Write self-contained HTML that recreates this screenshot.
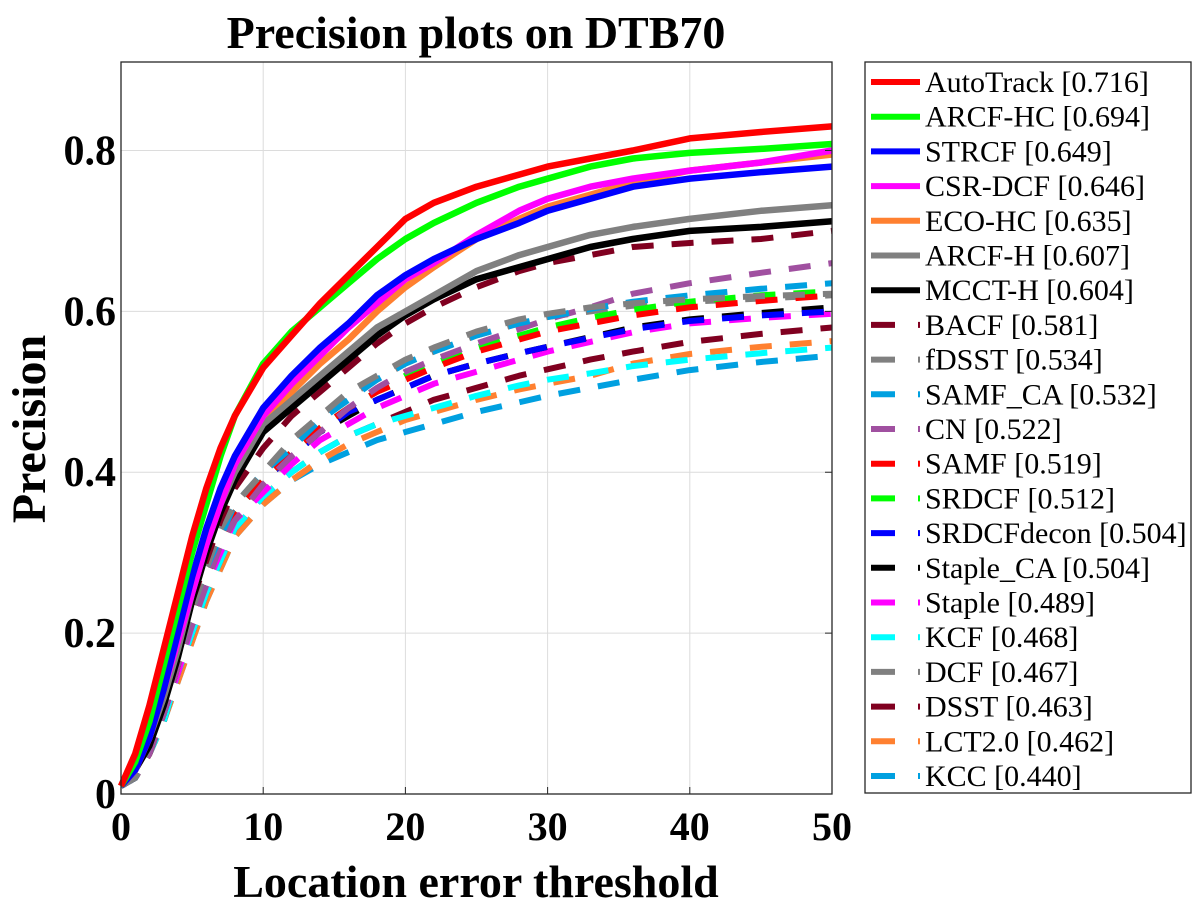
<!DOCTYPE html>
<html><head><meta charset="utf-8"><style>
body{margin:0;background:#fff;}
svg text{font-family:"Liberation Serif","Times New Roman",serif;}
</style></head><body>
<svg id="chart" width="1198" height="906" xmlns="http://www.w3.org/2000/svg">
<rect width="1198" height="906" fill="#fff"/>
<text x="476" y="48" font-size="46" font-weight="bold" text-anchor="middle">Precision plots on DTB70</text>
<g id="grid"></g><g id="series"></g><g id="axes"></g>
<text x="476" y="897" font-size="46" font-weight="bold" text-anchor="middle">Location error threshold</text>
<text x="0" y="0" font-size="48" font-weight="bold" text-anchor="middle" transform="translate(45,429) rotate(-90)">Precision</text>
<g id="legend"></g>
</svg>
<script>
const T=[0,1,2,3,4,5,6,7,8,10,12,14,16,18,20,22,25,28,30,33,36,40,45,50];
const xTicks=[0,10,20,30,40,50];
const yTicks=[0,0.2,0.4,0.6,0.8];
const yTickLabels=["0","0.2","0.4","0.6","0.8"];
const names=["AutoTrack [0.716]","ARCF-HC [0.694]","STRCF [0.649]","CSR-DCF [0.646]","ECO-HC [0.635]","ARCF-H [0.607]","MCCT-H [0.604]","BACF [0.581]","fDSST [0.534]","SAMF_CA [0.532]","CN [0.522]","SAMF [0.519]","SRDCF [0.512]","SRDCFdecon [0.504]","Staple_CA [0.504]","Staple [0.489]","KCF [0.468]","DCF [0.467]","DSST [0.463]","LCT2.0 [0.462]","KCC [0.440]"];
const colors=["#ff0000","#00ff00","#0000ff","#ff00ff","#ff8030","#808080","#000000","#800020","#808080","#00a0e0","#a050a0","#ff0000","#00ff00","#0000ff","#000000","#ff00ff","#00ffff","#808080","#800020","#ff8030","#00a0e0"];
const autoTrack=[0.01,0.05,0.11,0.18,0.25,0.32,0.38,0.43,0.47,0.53,0.57,0.61,0.645,0.68,0.715,0.735,0.755,0.77,0.78,0.79,0.80,0.815,0.823,0.83];
const arcfHC=[0.01,0.04,0.09,0.16,0.23,0.30,0.36,0.42,0.47,0.535,0.575,0.605,0.635,0.665,0.69,0.71,0.735,0.755,0.765,0.78,0.79,0.797,0.802,0.808];
const strcf=[0.01,0.03,0.07,0.13,0.20,0.27,0.33,0.38,0.42,0.48,0.52,0.555,0.585,0.62,0.645,0.665,0.69,0.71,0.725,0.74,0.755,0.765,0.773,0.78];
const csrdcf=[0.01,0.03,0.07,0.13,0.19,0.25,0.31,0.36,0.41,0.47,0.51,0.545,0.58,0.61,0.64,0.66,0.695,0.725,0.74,0.755,0.765,0.775,0.785,0.80];
const ecoHC=[0.01,0.03,0.07,0.13,0.19,0.26,0.32,0.37,0.41,0.47,0.50,0.535,0.565,0.60,0.63,0.655,0.69,0.715,0.73,0.745,0.76,0.775,0.785,0.795];
const arcfH=[0.01,0.03,0.07,0.12,0.18,0.25,0.31,0.36,0.40,0.46,0.49,0.52,0.55,0.58,0.60,0.62,0.65,0.67,0.68,0.695,0.705,0.715,0.725,0.732];
const mcctH=[0.01,0.03,0.06,0.11,0.17,0.24,0.30,0.35,0.39,0.45,0.48,0.51,0.54,0.57,0.595,0.615,0.64,0.655,0.665,0.68,0.69,0.70,0.705,0.712];
const bacf=[0.01,0.03,0.07,0.12,0.18,0.24,0.29,0.34,0.38,0.43,0.47,0.50,0.53,0.56,0.585,0.605,0.63,0.65,0.66,0.67,0.68,0.685,0.69,0.70];
const fdsst=[0.01,0.02,0.06,0.11,0.17,0.23,0.28,0.33,0.36,0.40,0.44,0.47,0.50,0.52,0.54,0.555,0.575,0.59,0.597,0.605,0.61,0.615,0.619,0.622];
const samfCA=[0.01,0.02,0.06,0.11,0.17,0.23,0.28,0.32,0.36,0.40,0.43,0.465,0.49,0.515,0.535,0.55,0.57,0.585,0.593,0.603,0.612,0.62,0.628,0.635];
const cn=[0.01,0.02,0.05,0.10,0.16,0.21,0.26,0.31,0.34,0.385,0.42,0.45,0.48,0.505,0.525,0.54,0.56,0.578,0.59,0.605,0.622,0.635,0.648,0.66];
const samf=[0.01,0.02,0.05,0.10,0.16,0.22,0.27,0.31,0.35,0.39,0.425,0.455,0.48,0.50,0.515,0.53,0.55,0.565,0.575,0.585,0.595,0.605,0.613,0.62];
const srdcf=[0.01,0.02,0.05,0.10,0.16,0.22,0.27,0.31,0.35,0.39,0.425,0.455,0.48,0.50,0.52,0.535,0.555,0.57,0.58,0.592,0.602,0.612,0.62,0.625];
const srdcfDecon=[0.01,0.02,0.05,0.10,0.16,0.22,0.27,0.31,0.35,0.39,0.42,0.45,0.475,0.49,0.505,0.52,0.535,0.548,0.556,0.567,0.578,0.588,0.595,0.60];
const stapleCA=[0.01,0.02,0.05,0.10,0.16,0.22,0.27,0.31,0.35,0.39,0.42,0.45,0.47,0.49,0.505,0.52,0.535,0.548,0.556,0.568,0.58,0.59,0.598,0.605];
const staple=[0.01,0.02,0.05,0.10,0.15,0.21,0.26,0.30,0.34,0.375,0.41,0.44,0.46,0.48,0.495,0.51,0.525,0.54,0.55,0.562,0.574,0.585,0.592,0.597];
const kcf=[0.01,0.02,0.05,0.09,0.15,0.20,0.25,0.29,0.33,0.37,0.40,0.425,0.445,0.46,0.47,0.48,0.495,0.508,0.515,0.523,0.532,0.54,0.548,0.555];
const dcf=[0.01,0.02,0.06,0.11,0.17,0.23,0.28,0.33,0.36,0.40,0.44,0.47,0.495,0.515,0.535,0.55,0.57,0.585,0.593,0.60,0.607,0.612,0.616,0.62];
const dsst=[0.01,0.02,0.05,0.09,0.15,0.20,0.25,0.29,0.33,0.37,0.40,0.425,0.445,0.46,0.475,0.49,0.505,0.52,0.528,0.54,0.55,0.562,0.572,0.58];
const lct=[0.01,0.02,0.05,0.09,0.14,0.19,0.24,0.28,0.32,0.36,0.39,0.415,0.435,0.45,0.465,0.475,0.49,0.503,0.51,0.52,0.535,0.547,0.556,0.563];
const kcc=[0.01,0.02,0.05,0.09,0.14,0.19,0.24,0.28,0.32,0.36,0.39,0.41,0.425,0.44,0.45,0.46,0.475,0.487,0.495,0.505,0.515,0.527,0.537,0.545];
const series=[autoTrack,arcfHC,strcf,csrdcf,ecoHC,arcfH,mcctH,bacf,fdsst,samfCA,cn,samf,srdcf,srdcfDecon,stapleCA,staple,kcf,dcf,dsst,lct,kcc];

const NS="http://www.w3.org/2000/svg";
const X0=121,X1=832,Y0=794,YTOP=62,YMAX=0.91;
const xS=t=>X0+(t/50)*(X1-X0);
const yS=v=>Y0-(v/YMAX)*(Y0-YTOP);
function mk(tag,attrs,parent){const e=document.createElementNS(NS,tag);for(const k in attrs)e.setAttribute(k,attrs[k]);parent.appendChild(e);return e;}
const grid=document.getElementById('grid'),axes=document.getElementById('axes'),sg=document.getElementById('series'),lg=document.getElementById('legend');
mk('rect',{x:X0,y:YTOP,width:X1-X0,height:Y0-YTOP,fill:'#fff'},grid);
xTicks.forEach(t=>{
  const l=mk('line',{x1:xS(t),x2:xS(t),y1:YTOP,y2:Y0,stroke:'#dcdcdc','stroke-width':1},grid);
  
  
  mk('line',{x1:xS(t),x2:xS(t),y1:Y0,y2:Y0-7,stroke:'#262626','stroke-width':1},axes);
  const tx=mk('text',{x:xS(t),y:Y0+46,'font-size':40,'font-weight':'bold','text-anchor':'middle'},axes);
  tx.textContent=t;
  
  
});
yTicks.forEach((v,i)=>{
  const l=mk('line',{x1:X0,x2:X1,y1:yS(v),y2:yS(v),stroke:'#dcdcdc','stroke-width':1},grid);
  
  
  mk('line',{x1:X1,x2:X1-7,y1:yS(v),y2:yS(v),stroke:'#262626','stroke-width':1},axes);
  const tx=mk('text',{x:X0-5,y:yS(v)+14,'font-size':42,'font-weight':'bold','text-anchor':'end'},axes);
  tx.textContent=yTickLabels[i];
  
  
});
const box=mk('rect',{x:X0,y:YTOP,width:X1-X0,height:Y0-YTOP,fill:'none',stroke:'#262626','stroke-width':1.3},axes);


for(let i=series.length-1;i>=0;i--){
  const pts=series[i].map((v,j)=>xS(T[j]).toFixed(1)+','+yS(v).toFixed(1)).join(' ');
  const dashed=i>=7;
  const p=mk('polyline',{points:pts,fill:'none',stroke:colors[i],'stroke-width':dashed?6:6.5,'stroke-linejoin':'round'},sg);
  if(dashed)p.setAttribute('stroke-dasharray','22 18');
  
  
}
const lb=mk('rect',{x:865,y:62,width:326,height:731,fill:'#fff',stroke:'#262626','stroke-width':1.3},lg);


names.forEach((n,i)=>{
  const y=82+i*34.7;
  const g=mk('g',{},lg);
  
  
  if(i<7){mk('line',{x1:871,x2:920,y1:y,y2:y,stroke:colors[i],'stroke-width':6},g);}
  else{mk('line',{x1:871,x2:895,y1:y,y2:y,stroke:colors[i],'stroke-width':6},g);
       mk('line',{x1:918,x2:920,y1:y,y2:y,stroke:colors[i],'stroke-width':6},g);}
  const t=mk('text',{x:925,y:y+10,'font-size':30},g);
  t.textContent=n;
});
</script>
</body></html>
